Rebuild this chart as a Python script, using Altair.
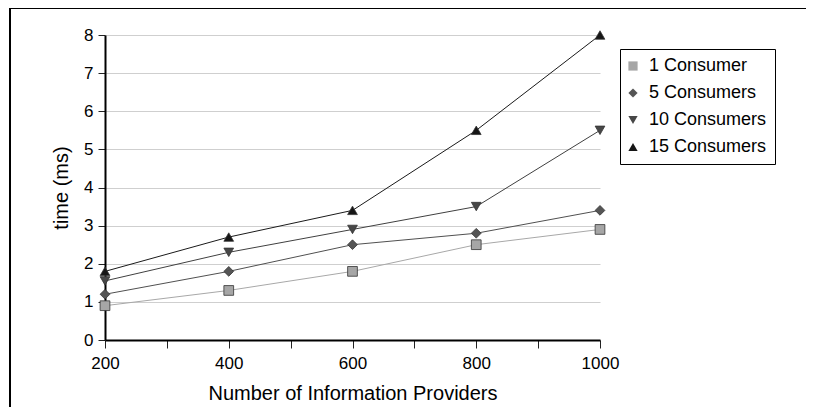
import altair as alt
import pandas as pd

providers = [200, 400, 600, 800, 1000]
series_names = ["1 Consumer", "5 Consumers", "10 Consumers", "15 Consumers"]
one_consumer = [0.9, 1.3, 1.8, 2.5, 2.9]
five_consumers = [1.2, 1.8, 2.5, 2.8, 3.4]
ten_consumers = [1.55, 2.3, 2.9, 3.5, 5.5]
fifteen_consumers = [1.8, 2.7, 3.4, 5.5, 8.0]

x_tick_values = [200, 300, 400, 500, 600, 700, 800, 900, 1000]
y_tick_values = [0, 1, 2, 3, 4, 5, 6, 7, 8]

line_colors = ["#a8a8a8", "#505050", "#404040", "#1a1a1a"]
fill_colors = ["#a6a6a6", "#555555", "#474747", "#151515"]
shapes = ["square", "diamond", "triangle-down", "triangle-up"]

rows = []
for name, vals in zip(series_names, [one_consumer, five_consumers, ten_consumers, fifteen_consumers]):
    for p, v in zip(providers, vals):
        rows.append({"providers": p, "time": v, "series": name})
df = pd.DataFrame(rows)

FONT = "Liberation Sans"

x_enc = alt.X(
    "providers:Q",
    scale=alt.Scale(domain=[200, 1000], nice=False, zero=False),
    axis=alt.Axis(
        title="Number of Information Providers",
        values=x_tick_values,
        format="d",
        labelExpr="datum.value % 200 == 0 ? datum.label : ''",
        labelFlush=False,
        grid=False,
        tickSize=8,
        labelPadding=7,
        titlePadding=12,
    ),
)
y_enc = alt.Y(
    "time:Q",
    scale=alt.Scale(domain=[0, 8], nice=False),
    axis=alt.Axis(
        title="time (ms)",
        values=y_tick_values,
        labelFlush=False,
        grid=True,
        tickSize=7,
        labelPadding=5,
        titlePadding=12,
    ),
)

lines = alt.Chart(df).mark_line(strokeWidth=1, clip=False).encode(
    x=x_enc,
    y=y_enc,
    stroke=alt.Stroke("series:N", scale=alt.Scale(domain=series_names, range=line_colors), legend=None),
    detail="series:N",
)

legend = alt.Legend(
    title=None,
    orient="none",
    legendX=515,
    legendY=14,
)

points = alt.Chart(df).mark_point(filled=True, size=95, stroke="#333333", strokeWidth=0.8, opacity=1).encode(
    x=x_enc,
    y=y_enc,
    fill=alt.Fill("series:N", scale=alt.Scale(domain=series_names, range=fill_colors), legend=legend),
    shape=alt.Shape("series:N", scale=alt.Scale(domain=series_names, range=shapes), legend=legend),
)

border_top = alt.Chart(alt.Data(values=[{}])).mark_rule(color="black", strokeWidth=2).encode(
    x=alt.value(-95), x2=alt.value(720), y=alt.value(-27)
)
border_left = alt.Chart(alt.Data(values=[{}])).mark_rule(color="black", strokeWidth=2).encode(
    x=alt.value(-95), y=alt.value(-27), y2=alt.value(400)
)

chart = alt.layer(border_top, border_left, lines, points).resolve_legend(
    stroke="independent"
).properties(
    width=495,
    height=305,
    background="white",
    autosize=alt.AutoSizeParams(type="none"),
    padding={"left": 97, "top": 27, "right": 206, "bottom": 67},
).configure_view(stroke=None).configure_axis(
    labelFont=FONT,
    titleFont=FONT,
    labelFontSize=17,
    titleFontSize=20,
    titleFontWeight="normal",
    labelColor="black",
    titleColor="black",
    domainColor="black",
    domainWidth=2,
    tickColor="#222222",
    tickWidth=1,
    gridColor="#cfcfcf",
    gridWidth=1,
).configure_legend(
    fillColor="white",
    strokeColor="black",
    padding=8,
    rowPadding=9,
    labelFont=FONT,
    labelFontSize=18,
    labelColor="black",
    symbolSize=85,
    symbolStrokeColor="#333333",
    symbolStrokeWidth=0.8,
    symbolOffset=-4,
    labelOffset=7,
)

chart.save("out.html", embed_options={"renderer": "svg", "actions": False})
